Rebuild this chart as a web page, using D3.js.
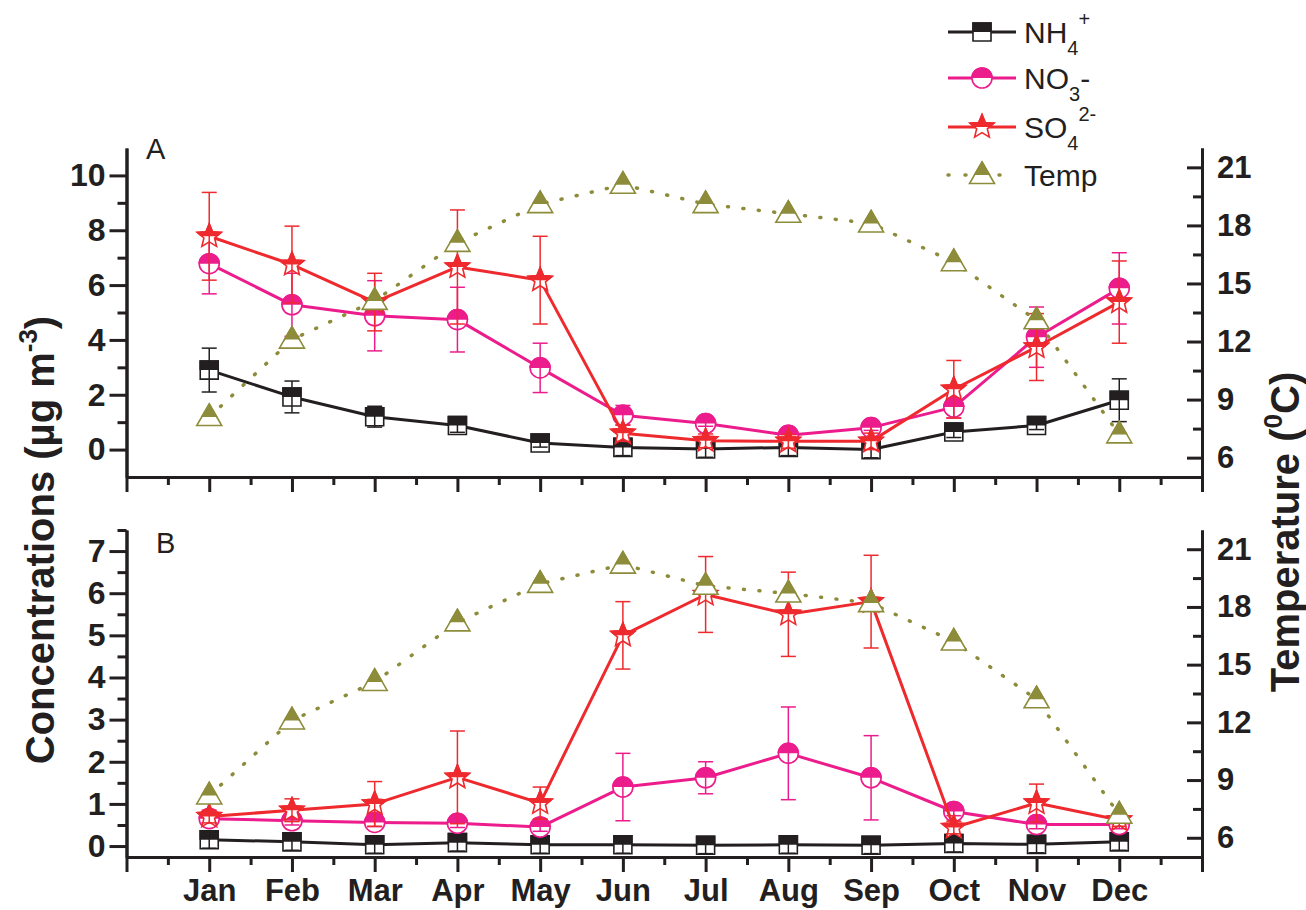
<!DOCTYPE html>
<html>
<head>
<meta charset="utf-8">
<script src="https://cdn.jsdelivr.net/npm/d3@7"></script>
<style>
  body { margin: 0; background: #fff; }
  svg { display: block; }
  text { font-family: "Liberation Sans", Arial, sans-serif; fill: #231f20; }
</style>
</head>
<body>
<svg id="chart" width="1306" height="910"></svg>
<script>
// ---- data ----
const months = ["Jan","Feb","Mar","Apr","May","Jun","Jul","Aug","Sep","Oct","Nov","Dec"];

// Panel A (concentrations in µg m-3, temperature in °C)
const nh4A    = [2.90, 1.92, 1.20, 0.88, 0.24, 0.08, 0.02, 0.08, 0.00, 0.64, 0.88, 1.80];
const nh4ErrA = [0.80, 0.58, 0.38, 0.25, 0.15, 0.30, 0.30, 0.30, 0.30, 0.20, 0.15, 0.78];
const no3A    = [6.78, 5.28, 4.88, 4.74, 2.98, 1.25, 0.95, 0.52, 0.80, 1.55, 4.10, 5.88];
const no3ErrA = [1.10, 1.15, 1.28, 1.18, 0.90, 0.36, 0.10, 0.10, 0.10, 0.40, 1.10, 1.30];
const so4A    = [7.78, 6.75, 5.38, 6.66, 6.18, 0.60, 0.32, 0.30, 0.30, 2.20, 3.74, 5.38];
const so4ErrA = [1.60, 1.40, 1.05, 2.08, 1.60, 0.30, 0.25, 0.25, 0.30, 1.05, 1.22, 1.50];
const tempA   = [8.1, 12.1, 14.1, 17.1, 19.1, 20.1, 19.1, 18.6, 18.1, 16.1, 13.1, 7.2];

// Panel B
const nh4B    = [0.15, 0.10, 0.03, 0.08, 0.03, 0.03, 0.02, 0.03, 0.02, 0.06, 0.04, 0.10];
const nh4ErrB = [0.20, 0.20, 0.20, 0.20, 0.20, 0.20, 0.20, 0.20, 0.20, 0.20, 0.20, 0.20];
const no3B    = [0.65, 0.60, 0.56, 0.54, 0.45, 1.40, 1.62, 2.20, 1.62, 0.82, 0.51, 0.51];
const no3ErrB = [0.10, 0.10, 0.10, 0.10, 0.10, 0.80, 0.38, 1.10, 1.00, 0.10, 0.10, 0.10];
const so4B    = [0.70, 0.85, 1.00, 1.63, 1.02, 5.00, 5.97, 5.50, 5.80, 0.44, 1.02, 0.62];
const so4ErrB = [0.15, 0.27, 0.53, 1.10, 0.38, 0.80, 0.90, 1.00, 1.10, 0.15, 0.45, 0.15];
const tempB   = [8.2, 12.1, 14.1, 17.2, 19.2, 20.2, 19.1, 18.7, 18.2, 16.2, 13.2, 7.2];

// tick values
const leftTicksA  = [0, 2, 4, 6, 8, 10];
const leftMinorA  = [1, 3, 5, 7, 9];
const leftTicksB  = [0, 1, 2, 3, 4, 5, 6, 7];
const leftMinorB  = [0.5, 1.5, 2.5, 3.5, 4.5, 5.5, 6.5, 7.5];
const tempTicks   = [6, 9, 12, 15, 18, 21];
const tempMinor   = [7.5, 10.5, 13.5, 16.5, 19.5];

// ---- styling ----
const COL = { nh4: "#231f20", no3: "#ec1c8c", so4: "#ee2a2e", temp: "#8c8c3a" };
const AXIS_W = 3;

const svg = d3.select("#chart");
const defs = svg.append("defs");
// upper half of a marker (markers are drawn around their own origin)
defs.append("clipPath").attr("id", "upperHalf")
  .append("rect").attr("x", -20).attr("y", -20).attr("width", 40).attr("height", 20);

function starPath(R, r) {
  const pts = [];
  for (let k = 0; k < 10; k++) {
    const a = -Math.PI / 2 + k * Math.PI / 5;
    const rad = k % 2 === 0 ? R : r;
    pts.push([rad * Math.cos(a), rad * Math.sin(a)]);
  }
  return "M" + pts.map(p => p[0].toFixed(2) + "," + p[1].toFixed(2)).join("L") + "Z";
}
const SHAPES = {
  square: "M-9,-9H9V9H-9Z",
  circle: "M-10,0A10,10 0 1,0 10,0A10,10 0 1,0 -10,0Z",
  star: starPath(12.5, 5.6),
  triangle: "M0,-13L12.5,8.5L-12.5,8.5Z"
};

function marker(sel, shape, color) {
  sel.append("path").attr("d", SHAPES[shape])
    .attr("fill", "#fff").attr("stroke", color).attr("stroke-width", 1.6);
  sel.append("path").attr("d", SHAPES[shape])
    .attr("fill", color).attr("stroke", color).attr("stroke-width", 1.6)
    .attr("clip-path", "url(#upperHalf)");
}

// ---- scales ----
const x = d3.scaleLinear().domain([0, 13]).range([126.5, 1202]);

const panels = [
  {
    top: 148, bottom: 477, leftDomain: [-1, 11],
    leftTicks: leftTicksA, leftMinor: leftMinorA,
    series: [
      { key: "nh4", shape: "square", vals: nh4A, err: nh4ErrA },
      { key: "no3", shape: "circle", vals: no3A, err: no3ErrA },
      { key: "so4", shape: "star",   vals: so4A, err: so4ErrA }
    ],
    temp: tempA, letter: "A", letterX: 146, letterY: 159, monthLabels: false
  },
  {
    top: 530, bottom: 857, leftDomain: [-0.26, 7.5],
    leftTicks: leftTicksB, leftMinor: leftMinorB,
    series: [
      { key: "nh4", shape: "square", vals: nh4B, err: nh4ErrB },
      { key: "no3", shape: "circle", vals: no3B, err: no3ErrB },
      { key: "so4", shape: "star",   vals: so4B, err: so4ErrB }
    ],
    temp: tempB, letter: "B", letterX: 156, letterY: 553, monthLabels: true
  }
];

function styleAxis(g, fontSize) {
  g.selectAll(".domain").attr("stroke", COL.nh4).attr("stroke-width", AXIS_W);
  g.selectAll(".tick line").attr("stroke", COL.nh4).attr("stroke-width", AXIS_W);
  g.selectAll(".tick text")
    .attr("font-family", '"Liberation Sans", Arial, sans-serif')
    .attr("font-size", fontSize).attr("font-weight", "bold").attr("fill", COL.nh4);
}

panels.forEach(p => {
  const yL = d3.scaleLinear().domain(p.leftDomain).range([p.bottom, p.top]);
  const yR = d3.scaleLinear().domain([5, 22]).range([p.bottom, p.top]);
  const g = svg.append("g");

  // axes
  const gxMinor = g.append("g").attr("transform", `translate(0,${p.bottom})`)
    .call(d3.axisBottom(x).tickValues(d3.range(0.5, 13, 1)).tickSize(8).tickSizeOuter(0).tickFormat(""));
  styleAxis(gxMinor, 31);
  const gx = g.append("g").attr("transform", `translate(0,${p.bottom})`)
    .call(d3.axisBottom(x).tickValues(d3.range(0, 14)).tickSize(15).tickSizeOuter(0).tickPadding(7)
      .tickFormat(v => (p.monthLabels && v >= 1 && v <= 12) ? months[v - 1] : ""));
  styleAxis(gx, 31);

  const glMinor = g.append("g").attr("transform", `translate(${x(0)},0)`)
    .call(d3.axisLeft(yL).tickValues(p.leftMinor).tickSize(9).tickSizeOuter(0).tickFormat(""));
  styleAxis(glMinor, 32);
  const gl = g.append("g").attr("transform", `translate(${x(0)},0)`)
    .call(d3.axisLeft(yL).tickValues(p.leftTicks).tickSize(17).tickSizeOuter(0).tickPadding(4));
  styleAxis(gl, 32);

  const grMinor = g.append("g").attr("transform", `translate(${x(13)},0)`)
    .call(d3.axisRight(yR).tickValues(tempMinor).tickSize(-9).tickSizeOuter(0).tickFormat(""));
  styleAxis(grMinor, 31);
  const gr = g.append("g").attr("transform", `translate(${x(13)},0)`)
    .call(d3.axisRight(yR).tickValues(tempTicks).tickSize(-15).tickSizeOuter(0).tickPadding(15));
  styleAxis(gr, 31);

  // panel letter
  g.append("text").attr("x", p.letterX).attr("y", p.letterY)
    .attr("font-size", 29).text(p.letter);

  // concentration series
  p.series.forEach(s => {
    const col = COL[s.key];
    const line = d3.line().x((d, i) => x(i + 1)).y(d => yL(d));
    g.append("path").datum(s.vals).attr("d", line)
      .attr("fill", "none").attr("stroke", col).attr("stroke-width", 3)
      .attr("stroke-linejoin", "round");

    s.vals.forEach((v, i) => {
      const m = g.append("g").attr("transform", `translate(${x(i + 1)},${yL(v)})`);
      marker(m, s.shape, col);
    });

    const eb = g.append("g").attr("stroke", col).attr("stroke-width", 1.5).attr("fill", "none");
    s.vals.forEach((v, i) => {
      const cx = x(i + 1), y1 = yL(v + s.err[i]), y2 = yL(v - s.err[i]);
      eb.append("line").attr("x1", cx).attr("x2", cx).attr("y1", y1).attr("y2", y2);
      eb.append("line").attr("x1", cx - 7.5).attr("x2", cx + 7.5).attr("y1", y1).attr("y2", y1);
      eb.append("line").attr("x1", cx - 7.5).attr("x2", cx + 7.5).attr("y1", y2).attr("y2", y2);
    });
  });

  // temperature (right axis)
  const tline = d3.line().x((d, i) => x(i + 1)).y(d => yR(d));
  g.append("path").datum(p.temp).attr("d", tline)
    .attr("fill", "none").attr("stroke", COL.temp).attr("stroke-width", 3.5)
    .attr("stroke-linecap", "round").attr("stroke-dasharray", "1 14.5");
  p.temp.forEach((t, i) => {
    const m = g.append("g").attr("transform", `translate(${x(i + 1)},${yR(t)})`);
    marker(m, "triangle", COL.temp);
  });
});

// ---- axis titles ----
const leftTitle = svg.append("text")
  .attr("transform", "translate(54,540) rotate(-90)")
  .attr("text-anchor", "middle").attr("font-size", 40).attr("font-weight", "bold");
leftTitle.append("tspan").text("Concentrations (\u00b5g m");
leftTitle.append("tspan").attr("font-size", 26).attr("dy", -17).text("-3");
leftTitle.append("tspan").attr("dy", 17).text(")");

const rightTitle = svg.append("text")
  .attr("transform", "translate(1299,532) rotate(-90)")
  .attr("text-anchor", "middle").attr("font-size", 40).attr("font-weight", "bold");
rightTitle.append("tspan").text("Temperature (");
rightTitle.append("tspan").attr("font-size", 26).attr("dy", -17).text("0");
rightTitle.append("tspan").attr("dy", 17).text("C)");

// ---- legend ----
const legendRows = [
  { key: "nh4", shape: "square", y: 32, parts: [["NH", 0], ["4", 1], ["+", -1]], dotted: false },
  { key: "no3", shape: "circle", y: 78, parts: [["NO", 0], ["3", 1], ["-", 0]], dotted: false },
  { key: "so4", shape: "star", y: 127, parts: [["SO", 0], ["4", 1], ["2-", -1]], dotted: false },
  { key: "temp", shape: "triangle", y: 175, parts: [["Temp", 0]], dotted: true }
];
const lg = svg.append("g");
legendRows.forEach(r => {
  const col = COL[r.key];
  const ln = lg.append("line").attr("x1", 948).attr("x2", 1016).attr("y1", r.y).attr("y2", r.y)
    .attr("stroke", col).attr("stroke-width", 3);
  if (r.dotted) ln.attr("stroke-width", 3.5).attr("stroke-linecap", "round").attr("stroke-dasharray", "1 16");
  marker(lg.append("g").attr("transform", `translate(982,${r.y})`), r.shape, col);

  const t = lg.append("text").attr("x", 1024).attr("y", r.y + 11).attr("font-size", 30);
  let shift = 0;
  r.parts.forEach(([str, pos]) => {
    const target = pos === 1 ? 12 : pos === -1 ? -17 : 0;
    const ts = t.append("tspan").attr("dy", target - shift).text(str);
    if (pos !== 0) ts.attr("font-size", 20);
    shift = target;
  });
});
</script>
</body>
</html>
